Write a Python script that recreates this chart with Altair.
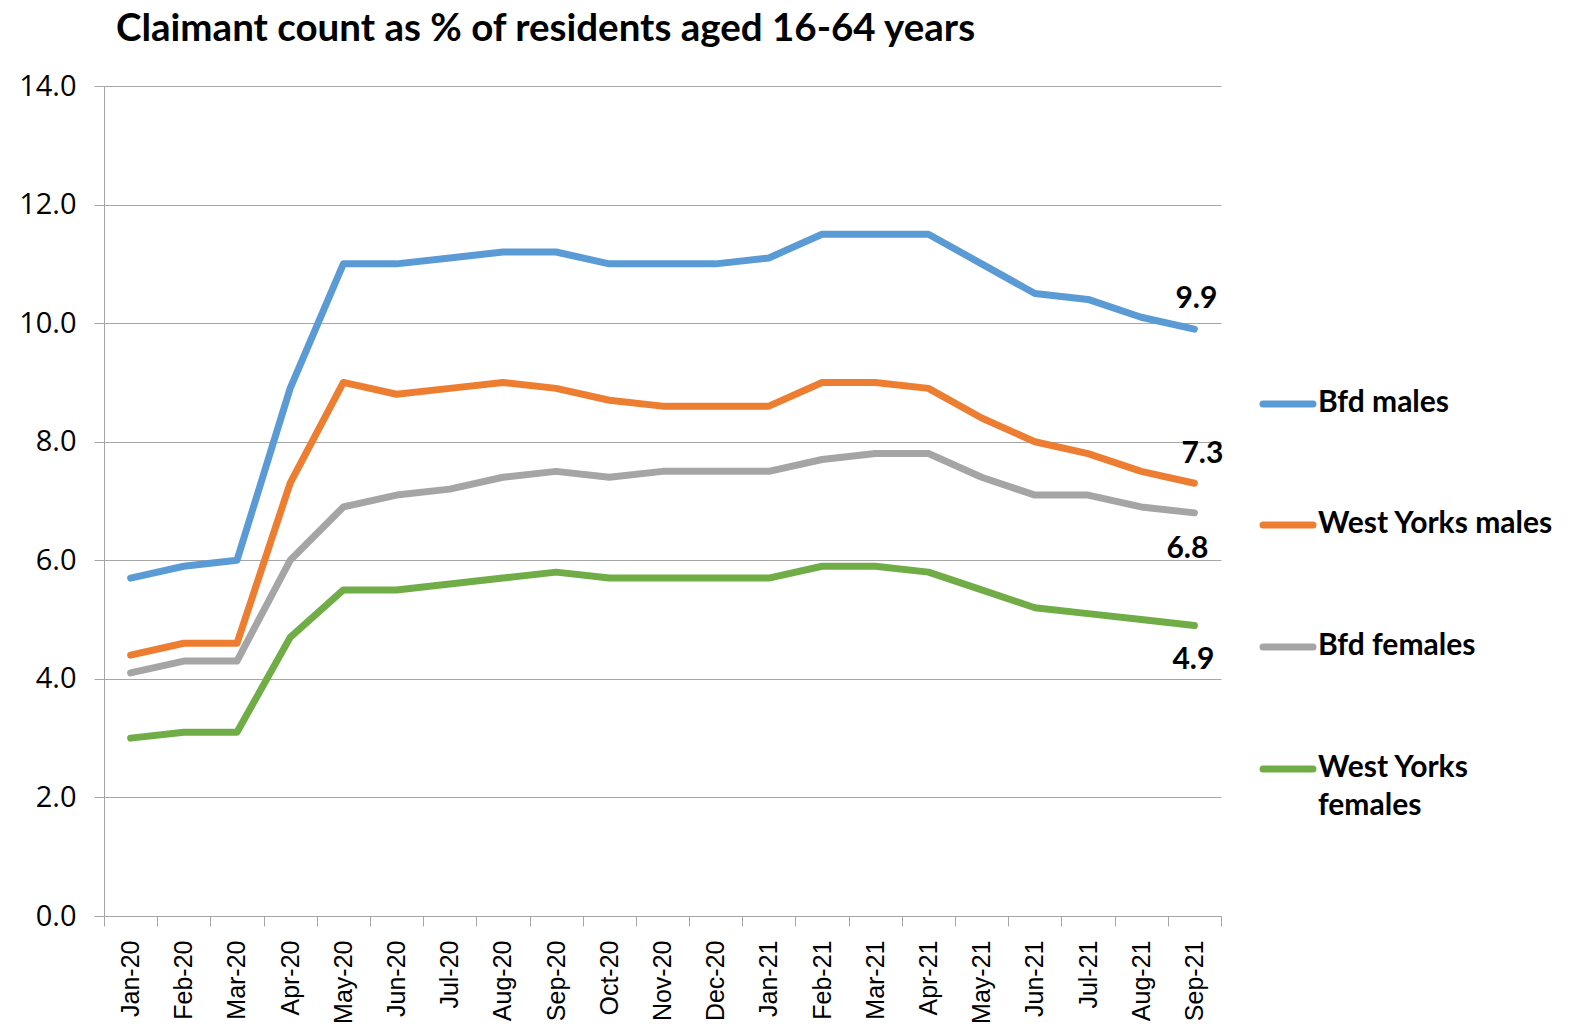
import altair as alt
import pandas as pd

months = ["Jan-20", "Feb-20", "Mar-20", "Apr-20", "May-20", "Jun-20", "Jul-20",
          "Aug-20", "Sep-20", "Oct-20", "Nov-20", "Dec-20", "Jan-21", "Feb-21",
          "Mar-21", "Apr-21", "May-21", "Jun-21", "Jul-21", "Aug-21", "Sep-21"]

bfd_males = [5.7, 5.9, 6.0, 8.9, 11.0, 11.0, 11.1, 11.2, 11.2, 11.0, 11.0, 11.0,
             11.1, 11.5, 11.5, 11.5, 11.0, 10.5, 10.4, 10.1, 9.9]
wy_males = [4.4, 4.6, 4.6, 7.3, 9.0, 8.8, 8.9, 9.0, 8.9, 8.7, 8.6, 8.6,
            8.6, 9.0, 9.0, 8.9, 8.4, 8.0, 7.8, 7.5, 7.3]
bfd_females = [4.1, 4.3, 4.3, 6.0, 6.9, 7.1, 7.2, 7.4, 7.5, 7.4, 7.5, 7.5,
               7.5, 7.7, 7.8, 7.8, 7.4, 7.1, 7.1, 6.9, 6.8]
wy_females = [3.0, 3.1, 3.1, 4.7, 5.5, 5.5, 5.6, 5.7, 5.8, 5.7, 5.7, 5.7,
              5.7, 5.9, 5.9, 5.8, 5.5, 5.2, 5.1, 5.0, 4.9]

series_names = ["Bfd males", "West Yorks males", "Bfd females", "West Yorks females"]
legend_labels = ["Bfd males", "West Yorks males", "Bfd females", "West Yorks\nfemales"]
colors = ["#5B9BD5", "#ED7D31", "#A5A5A5", "#70AD47"]
y_ticks = [0, 2, 4, 6, 8, 10, 12, 14]
title_text = "Claimant count as % of residents aged 16-64 years"

all_values = [bfd_males, wy_males, bfd_females, wy_females]
rows = []
for order, (name, vals) in enumerate(zip(series_names, all_values)):
    for m, v in zip(months, vals):
        rows.append({"month": m, "value": v, "series": name, "order": order})
df = pd.DataFrame(rows)

W, H = 1117, 830
grid_color = "#A6A6A6"
BOLD_FONT = "Lato"

x_enc = alt.X(
    "month:N", sort=months, bandPosition=0.5, title=None,
    scale=alt.Scale(type="band", paddingInner=0, paddingOuter=0),
    axis=alt.Axis(labelAngle=-90, labelAlign="right", labelBaseline="middle",
                  tickBand="extent", tickSize=10, labelPadding=14,
                  labelFont="Liberation Sans", labelFontSize=25, labelColor="#000000",
                  domainColor=grid_color, tickColor=grid_color, grid=False,
                  labelOverlap=False),
)
y_enc = alt.Y(
    "value:Q", title=None,
    scale=alt.Scale(domain=[0, 14], nice=False, zero=True),
    axis=alt.Axis(values=y_ticks, format=".1f", tickSize=10, labelPadding=18,
                  labelFont="Open Sans", labelFontSize=29, labelColor="#000000",
                  domainColor=grid_color, tickColor=grid_color,
                  grid=True, gridColor=grid_color, gridWidth=1.2),
)
color_enc = alt.Color("series:N", scale=alt.Scale(domain=series_names, range=colors), legend=None)

lines = alt.Chart(df).mark_line(strokeWidth=7, strokeCap="round", strokeJoin="round").encode(
    x=x_enc, y=y_enc, color=color_enc, detail="series:N",
)

layers = [lines]

# title as text
tdf = pd.DataFrame({"title": [title_text]})
layers.append(
    alt.Chart(tdf).mark_text(font=BOLD_FONT, fontWeight="bold", fontSize=38.5, color="#000000",
                             align="left", baseline="alphabetic").encode(
        x=alt.value(12), y=alt.value(-45), text="title:N",
    )
)

# end labels
end_offsets = {
    "Bfd males": (2, -30),
    "West Yorks males": (8, -29),
    "Bfd females": (-7, 36),
    "West Yorks females": (-1, 34),
}
for name in series_names:
    dx, dy = end_offsets[name]
    layers.append(
        alt.Chart(df).transform_filter(
            (alt.datum.series == name) & (alt.datum.month == months[-1])
        ).mark_text(font=BOLD_FONT, fontWeight="bold", fontSize=30, color="#000000",
                    dx=dx, dy=dy, align="center", baseline="middle").encode(
            x=alt.X("month:N", sort=months, bandPosition=0.5),
            y="value:Q",
            text=alt.Text("value:Q", format=".1f"),
        )
    )

# custom legend
legend_y = [318, 439, 561, 683]
for name, label, col, ly in zip(series_names, legend_labels, colors, legend_y):
    ldf = pd.DataFrame({"series": [name], "label": [label]})
    layers.append(
        alt.Chart(ldf).mark_rule(strokeWidth=7, strokeCap="round", color=col).encode(
            x=alt.value(W + 42), x2=alt.value(W + 92), y=alt.value(ly),
        )
    )
    layers.append(
        alt.Chart(ldf).mark_text(font=BOLD_FONT, fontWeight="bold", fontSize=30, color="#000000",
                                 align="left", baseline="top", lineBreak="\n",
                                 lineHeight=38).encode(
            x=alt.value(W + 97), y=alt.value(ly - 16), text="label:N",
        )
    )

chart = alt.layer(*layers).properties(
    width=W, height=H,
    autosize=alt.AutoSizeParams(type="none"),
    padding={"left": 96, "top": 78, "right": 348, "bottom": 111},
).configure_view(stroke=None)

chart.save("out.html", embed_options={"renderer": "svg", "actions": False})
